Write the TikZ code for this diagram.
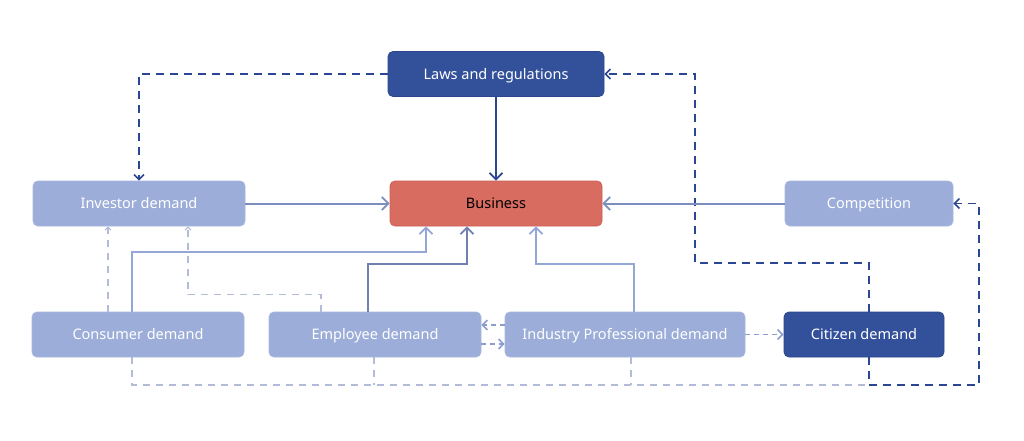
\documentclass[tikz,border=0pt]{standalone}
\usepackage{fontspec}
\setmainfont{Noto Sans}
\usetikzlibrary{arrows.meta}
\definecolor{navy}{HTML}{33519A}
\definecolor{navyline}{HTML}{2B4794}
\definecolor{navyborder}{HTML}{2A468F}
\definecolor{lightfill}{HTML}{9BADD8}
\definecolor{lightborder}{HTML}{A7B6DE}
\definecolor{redfill}{HTML}{D96C60}
\definecolor{redborder}{HTML}{CC5F54}
\definecolor{midline}{HTML}{7C8EBF}
\definecolor{empline}{HTML}{7080B0}
\definecolor{liteline}{HTML}{93A6D6}
\definecolor{paleline}{HTML}{B2BCD9}
\definecolor{pairline}{HTML}{8C9ED0}
\tikzset{
  box/.style={rectangle, rounded corners=5pt, minimum height=45pt, inner sep=0pt,
    text height=10.4pt, text depth=0pt,
    font=\fontsize{14.5}{17}\selectfont, line width=0.8pt},
  darkbox/.style={box, fill=navy, draw=navyborder, text=white},
  lightbox/.style={box, fill=lightfill, draw=lightborder, text=white},
  redbox/.style={box, fill=redfill, draw=redborder, text=black},
  bigtip/.style={-{Straight Barb[length=6.5pt,width=13pt,line width=1.8pt]}},
  midtip/.style={-{Straight Barb[length=5pt,width=10pt,line width=1.5pt]}},
  smalltip/.style={-{Straight Barb[length=3pt,width=6pt,line width=1.1pt]}},
  dkdash/.style={navyline, line width=1.8pt, dash pattern=on 8pt off 6pt, midtip},
  palelink/.style={paleline, line width=1.4pt, dash pattern=on 7pt off 6pt},
  pairlink/.style={pairline, line width=1.4pt, dash pattern=on 5pt off 4pt, midtip},
  solidlink/.style={line width=2pt, bigtip},
}
\begin{document}
\begin{tikzpicture}[x=1pt, y=-1pt]
\useasboundingbox (0,0) rectangle (1024,441);
\fill[white] (0,0) rectangle (1024,441);

% nodes
\node[darkbox, minimum width=216pt] (laws) at (496,74) {Laws and regulations};
\node[lightbox, minimum width=212pt] (inv) at (139,203.5) {Investor demand};
\node[redbox, minimum width=212pt] (bus) at (496,203.5) {Business};
\node[lightbox, minimum width=168pt] (comp) at (869,203.5) {Competition};
\node[lightbox, minimum width=212pt] (cons) at (138,334.5) {Consumer demand};
\node[lightbox, minimum width=212pt] (emp) at (375,334.5) {Employee demand};
\node[lightbox, minimum width=240pt] (ind) at (625,334.5) {Industry Professional demand};
\node[darkbox, minimum width=160pt] (cit) at (864,334.5) {Citizen demand};

% waypoints
\coordinate (w1) at (695,263);
\coordinate (w2) at (979,385);
\coordinate (w3) at (868,385);

% pale dashed links (drawn first, below)
\draw[palelink, smalltip] ([xshift=-30pt]cons.north) -- ([xshift=-31pt]inv.south);
\draw[palelink, smalltip] ([xshift=-54pt]emp.north) -- ++(0,-17) -| ([xshift=49pt]inv.south);
\draw[palelink] ([xshift=-6pt]cons.south) |- (w3);
\draw[palelink] ([xshift=-1pt]emp.south) -- ([xshift=-1pt]emp.south |- w3);
\draw[palelink] ([xshift=6pt]ind.south) -- ([xshift=6pt]ind.south |- w3);

% dark dashed links
\draw[dkdash] (laws.west) -| (inv.north);
\draw[dkdash] ([xshift=5pt]cit.north) |- (w1) |- (laws.east);
\draw[dkdash] ([xshift=5pt]cit.south) |- (w2) |- (comp.east);

% solid links to business
\draw[navyline, solidlink] (laws.south) -- (bus.north);
\draw[midline, solidlink] (inv.east) -- (bus.west);
\draw[midline, solidlink] (comp.west) -- (bus.east);
\draw[liteline, solidlink] ([xshift=-6pt]cons.north) -- ++(0,-60) -| ([xshift=-70pt]bus.south);
\draw[empline, solidlink] ([xshift=-7pt]emp.north) -- ++(0,-48) -| ([xshift=-29pt]bus.south);
\draw[liteline, solidlink] ([xshift=9pt]ind.north) -- ++(0,-48) -| ([xshift=40pt]bus.south);

% pair links
\draw[pairlink] ([yshift=9.5pt]ind.west) -- ([yshift=9.5pt]emp.east);
\draw[pairlink] ([yshift=-9.5pt]emp.east) -- ([yshift=-9.5pt]ind.west);
\draw[pairlink] (ind.east) -- (cit.west);
\end{tikzpicture}
\end{document}
